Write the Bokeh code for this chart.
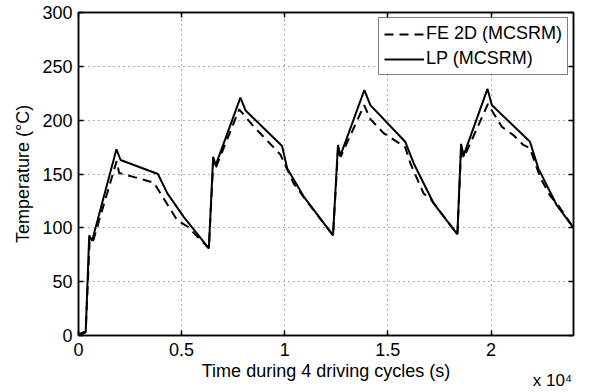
from bokeh.plotting import figure
from bokeh.models import LinearAxis, FixedTicker
from bokeh.embed import file_html
from bokeh.resources import INLINE

# ---- data ----
t_lp = [0, 350, 520, 660, 1840, 2040, 3850, 4310, 5110, 6320, 6530, 6650, 7850,
        8100, 9870, 10120, 10920, 12340, 12580, 12700, 13860, 14150, 15840,
        16250, 17210, 18370, 18550, 18670, 19830, 20040, 21890, 22300, 23190, 24000]
T_lp = [1, 4, 93, 88, 173, 163, 150, 132, 110, 81, 166, 158, 221,
        209, 176, 155, 129, 93, 177, 167, 228, 214, 180,
        160, 123, 94, 178, 167, 229, 214, 180, 155, 121, 100]

t_fe = [0, 350, 540, 680, 1850, 1970, 3650, 4790, 5300, 6320, 6540, 6660, 7790,
        8500, 9790, 10440, 10900, 12340, 12590, 12710, 13850, 14150, 14790, 15840,
        16090, 16730, 17100, 18370, 18560, 18680, 19850, 20520, 21090, 21570, 21890,
        22380, 22860, 23260, 24000]
T_fe = [0, 3, 88, 86, 162, 151, 142, 107, 101, 81, 163, 156, 210,
        194, 168, 141, 129, 93, 175, 166, 214, 201, 188, 175,
        160, 132, 126, 94, 176, 165, 215, 194, 186, 177, 174,
        147, 130, 121, 100]

x_ticks = [0, 5000, 10000, 15000, 20000]
x_tick_labels = ["0", "0.5", "1", "1.5", "2"]
y_ticks = [0, 50, 100, 150, 200, 250, 300]
x_multiplier_text = "x 10\u2074"
x_multiplier_pos = [22980]

FONT = "Liberation Sans"
FS = "18px"

p = figure(width=590, height=392, x_range=(0, 24000), y_range=(0, 300),
           output_backend="svg", toolbar_location=None,
           min_border_left=78, min_border_right=17, min_border_top=12,
           min_border_bottom=56)
p.background_fill_color = "white"
p.border_fill_color = "white"
p.outline_line_color = "black"
p.outline_line_width = 1.5

p.line(t_fe, T_fe, line_color="black", line_width=2, line_dash="9 6",
       legend_label="FE 2D (MCSRM)")
p.line(t_lp, T_lp, line_color="black", line_width=2,
       legend_label="LP (MCSRM)")

xt = FixedTicker(ticks=x_ticks)
yt = FixedTicker(ticks=y_ticks)

for ax in [p.xaxis[0], p.yaxis[0]]:
    ax.major_tick_in = 5
    ax.major_tick_out = 0
    ax.minor_tick_line_color = None
    ax.axis_line_color = "black"
    ax.axis_line_width = 1.5
    ax.major_tick_line_color = "black"
    ax.major_tick_line_width = 1.5
    ax.major_label_text_font = FONT
    ax.major_label_text_font_size = FS
    ax.major_label_text_color = "black"
    ax.axis_label_text_font = FONT
    ax.axis_label_text_font_size = FS
    ax.axis_label_text_font_style = "normal"
    ax.axis_label_text_color = "black"

p.xaxis[0].ticker = xt
p.yaxis[0].ticker = yt
p.xaxis[0].major_label_overrides = dict(zip(x_ticks, x_tick_labels))
p.xaxis[0].axis_label = "Time during 4 driving cycles (s)"
p.yaxis[0].axis_label = "Temperature (\u00b0C)"
p.xaxis[0].major_label_standoff = 7
p.xaxis[0].axis_label_standoff = 2
p.yaxis[0].major_label_standoff = 6
p.yaxis[0].axis_label_standoff = 6

# mirrored tick axes (top/right), no labels
top = LinearAxis(ticker=FixedTicker(ticks=x_ticks), major_tick_in=5, major_tick_out=0,
                 minor_tick_line_color=None, major_label_text_font_size="1px",
                 major_label_overrides={t: "" for t in x_ticks},
                 major_label_standoff=0, axis_line_color="black", axis_line_width=1.5,
                 major_tick_line_width=1.5)
right = LinearAxis(ticker=FixedTicker(ticks=y_ticks), major_tick_in=5, major_tick_out=0,
                   minor_tick_line_color=None, major_label_text_font_size="1px",
                   major_label_overrides={t: "" for t in y_ticks},
                   major_label_standoff=0, axis_line_color="black", axis_line_width=1.5,
                   major_tick_line_width=1.5)
p.add_layout(top, "above")
p.add_layout(right, "right")

# "x 10^4" multiplier, drawn as the tick label of a bare secondary axis
mult = LinearAxis(ticker=FixedTicker(ticks=x_multiplier_pos),
                  major_label_overrides={x_multiplier_pos[0]: x_multiplier_text},
                  major_tick_in=0, major_tick_out=0, major_tick_line_color=None,
                  minor_tick_line_color=None, axis_line_color=None,
                  major_label_standoff=-13, major_label_text_font=FONT,
                  major_label_text_font_size="17px", major_label_text_color="black")
p.add_layout(mult, "below")

p.xgrid.ticker = xt
p.ygrid.ticker = yt
for g in [p.xgrid[0], p.ygrid[0]]:
    g.grid_line_color = "black"
    g.grid_line_alpha = 0.65
    g.grid_line_width = 1
    g.grid_line_dash = "1 4"

lg = p.legend[0]
lg.location = "top_right"
lg.margin = 5
lg.padding = 5
lg.spacing = 4
lg.glyph_width = 40
lg.glyph_height = 18
lg.label_height = 18
lg.label_standoff = 2
lg.label_text_font = FONT
lg.label_text_font_size = FS
lg.label_text_color = "black"
lg.border_line_color = "black"
lg.border_line_width = 1.5
lg.background_fill_color = "white"
lg.background_fill_alpha = 1.0

open("out.html", "w").write(file_html(p, INLINE))
